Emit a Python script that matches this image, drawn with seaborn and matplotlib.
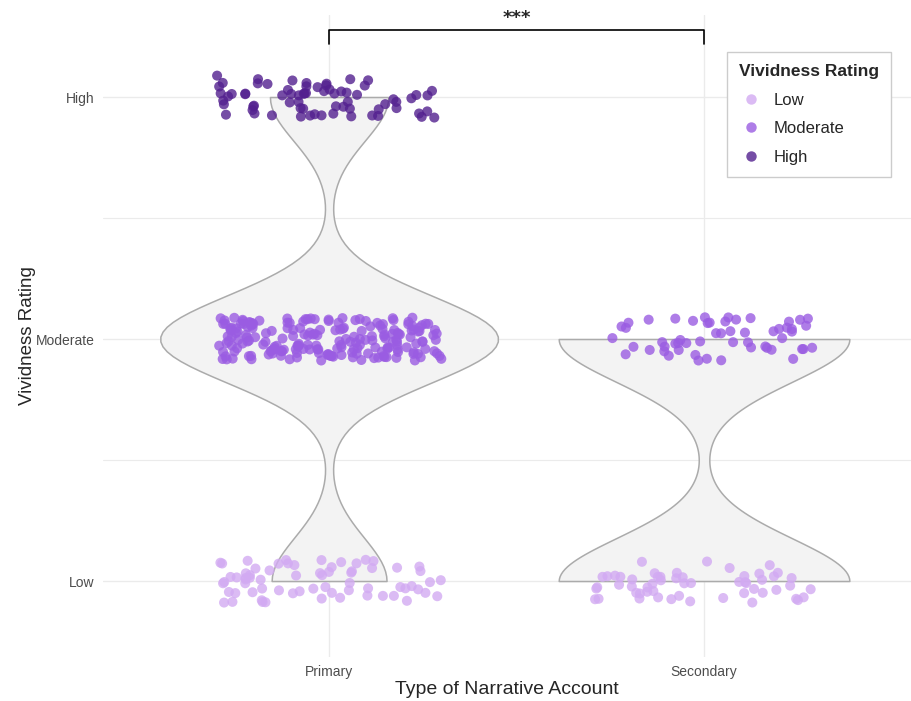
import matplotlib
matplotlib.use("Agg")
import matplotlib.pyplot as plt
from matplotlib.lines import Line2D
import seaborn as sns
import pandas as pd
import numpy as np

# categories and counts
accounts = ["Primary", "Secondary"]
rating_levels = ["Low", "Moderate", "High"]
primary_counts = [68, 200, 70]
secondary_counts = [55, 55, 0]
palette = {"Low": "#d2aaf2", "Moderate": "#9a5ce2", "High": "#53208f"}

rows = []
for account, counts in zip(accounts, [primary_counts, secondary_counts]):
    for i, level in enumerate(rating_levels):
        for _ in range(counts[i]):
            rows.append({"account": account, "rating": level, "value": i + 1})
df = pd.DataFrame(rows)

# jitter like geom_jitter(width = 0.3, height = 0.09), display only
rng = np.random.default_rng(11)
df["xj"] = df["account"].map({a: i for i, a in enumerate(accounts)}) + rng.uniform(-0.3, 0.3, len(df))
df["yj"] = df["value"] + rng.uniform(-0.09, 0.09, len(df))

sns.set_style("white")
plt.rcParams["font.family"] = ["Liberation Sans", "DejaVu Sans"]

fig = plt.figure(figsize=(9.11, 7.01), dpi=100)
ax = fig.add_axes([103 / 911, 44 / 701, 808 / 911, 642 / 701])

sns.violinplot(data=df, x="account", y="value", order=accounts, cut=0, inner=None,
               width=0.9, density_norm="area", bw_adjust=0.9, color="#f3f3f3",
               linecolor="#ababab", linewidth=1.1, saturation=1, ax=ax)
sns.scatterplot(data=df, x="xj", y="yj", hue="rating", hue_order=rating_levels,
                palette=palette, alpha=0.8, s=52, edgecolor="none", legend=False, ax=ax)

ax.set_xlim(-0.603, 1.552)
ax.set_ylim(0.686, 3.339)
ax.set_xticks([0, 1], accounts)
ax.set_yticks([1, 2, 3], rating_levels)
ax.set_yticks([1.5, 2.5], minor=True)
ax.grid(True, which="major", color="#ebebeb", linewidth=1.0)
ax.grid(True, which="minor", axis="y", color="#ebebeb", linewidth=0.8)
ax.set_axisbelow(True)
for s in ax.spines.values():
    s.set_visible(False)
ax.tick_params(which="both", length=0, labelsize=10, labelcolor="#4d4d4d", pad=6)
ax.set_xlabel("Type of Narrative Account", fontsize=14, labelpad=1)
ax.set_ylabel("Vividness Rating", fontsize=13.5, labelpad=0)

# significance bracket
ax.plot([0, 0, 1, 1], [3.22, 3.275, 3.275, 3.22], color="black", lw=1.2, clip_on=False)
ax.text(0.5, 3.29, "***", ha="center", va="bottom", fontsize=13, fontweight="bold",
        family="DejaVu Sans", clip_on=False)

handles = [Line2D([], [], marker="o", linestyle="", markersize=7.5, markerfacecolor=palette[r],
                  markeredgecolor="none", alpha=0.8) for r in rating_levels]
leg = ax.legend(handles, rating_levels, title="Vividness Rating", loc="upper left",
                bbox_to_anchor=(727 / 911, 1 - 52 / 701), bbox_transform=fig.transFigure,
                borderaxespad=0, fontsize=12, title_fontproperties={"weight": "bold", "size": 12.5},
                frameon=True, fancybox=False, edgecolor="#cccccc", framealpha=1,
                handlelength=1.45, handletextpad=0.65, labelspacing=0.82, borderpad=0.72,
                alignment="left")
leg.get_frame().set_linewidth(1.0)

fig.savefig("out.png", dpi=100)
